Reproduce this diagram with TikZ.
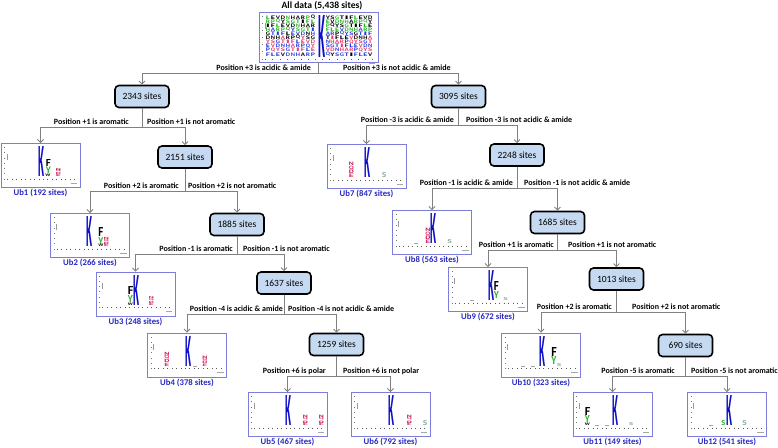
\documentclass[tikz,border=0pt]{standalone}
\usepackage{fontspec}
\setmainfont{Carlito}
\usepackage{graphicx}
\usetikzlibrary{arrows.meta}
\definecolor{boxfill}{RGB}{197,217,241}
\definecolor{conngray}{RGB}{128,128,128}
\definecolor{logoborder}{RGB}{125,125,220}
\definecolor{capblue}{RGB}{40,40,195}
\definecolor{kblue}{RGB}{15,15,200}
\definecolor{lgreen}{RGB}{40,175,40}
\definecolor{lpink}{RGB}{225,40,110}
\definecolor{lred}{RGB}{190,20,60}
\definecolor{lgray}{RGB}{140,175,150}
\definecolor{lg0}{RGB}{0,0,0}
\definecolor{lg1}{RGB}{40,180,40}
\definecolor{lg2}{RGB}{0,0,0}
\definecolor{lg3}{RGB}{40,180,40}
\definecolor{lg4}{RGB}{40,60,220}
\definecolor{lg5}{RGB}{0,0,0}
\definecolor{lg6}{RGB}{230,60,110}
\definecolor{lg7}{RGB}{40,60,220}
\definecolor{lg8}{RGB}{230,60,110}
\definecolor{lg9}{RGB}{40,60,220}
\tikzset{
 sitebox/.style={draw=black, line width=1.6pt, fill=boxfill, rounded corners=4pt,
   minimum width=54pt, minimum height=22pt, inner sep=0pt, font=\fontsize{9.5}{10}\selectfont},
 logobox/.style={draw=logoborder, line width=0.9pt, fill=white, minimum width=79pt,
   minimum height=44pt, inner sep=0pt},
 conn/.style={draw=conngray, line width=0.9pt},
 arr/.style={conn, -{Straight Barb[length=3pt,width=6pt]}},
 lbl/.style={font=\fontsize{8}{9}\selectfont\bfseries, inner sep=0pt},
 captxt/.style={font=\fontsize{8.7}{10}\selectfont\bfseries, text=capblue, inner sep=0pt, anchor=north},
}
\newcommand\LgAA[1]{\ifcase#1 L\or S\or A\or E\or G\or R\or V\or T\or P\or D\or I\or Q\or N\or F\or Y\or H\fi}
% x, ybase, width, height, colour, letter
\newcommand\LgLetter[6]{\node[inner sep=0pt, anchor=south west, text=#5] at ({#1},{#2}) {\resizebox{#3pt}{#4pt}{\bfseries #6}};}
\newcommand\KLetter[1]{\LgLetter{#1}{34}{6}{30}{kblue}{K}}
\newcommand\PStack[2]{%
  \pgfmathsetmacro\sh{#2/4}\pgfmathsetmacro\lh{#2/4*0.85}%
  \foreach \k/\L/\C in {0/E/lpink,1/D/lred,2/Q/lpink,3/N/lred}{\LgLetter{#1}{34-\k*\sh}{5}{\lh}{\C}{\L}}}
\newcommand\LgDash[1]{\draw[black!35, line width=0.5pt] ({#1},33.3) -- ++(4,0);}
\newcommand\LgMark[2]{\LgLetter{#1}{34}{4.5}{#2}{lgray}{S}}
% width, axis y
\newcommand\LogoAxes[2]{%
  \foreach \i in {0,...,15} \draw[black!65, line width=0.6pt] ({7+\i*(#1-12)/15},{#2}) -- ++(0,1.4);
  \foreach \j in {0,...,6} \fill[black!55] (3.6,{4+\j*(#2-4)/6}) rectangle ++(1,0.8);
  \draw[black!40, line width=0.5pt] (6.6,11) -- (6.6,17);
  \draw[black!35, line width=0.5pt] ({#1-9},{#2+4.5}) -- ({#1-2.5},{#2+4.5});
}
\begin{document}
\begin{tikzpicture}[x=1pt,y=-1pt]
\useasboundingbox (0,0) rectangle (778,447);

% ---------- nodes ----------
\node[font=\fontsize{9.6}{10}\selectfont\bfseries, inner sep=0pt] (title) at (322,5.5) {All data (5,438 sites)};
\node[logobox, minimum width=119pt, minimum height=50pt] (root) at (318.5,37) {};

\node[sitebox] (n2343) at (142,96.5) {2343 sites};
\node[sitebox] (n3095) at (458.5,96.5) {3095 sites};
\node[sitebox] (n2151) at (185,157) {2151 sites};
\node[sitebox] (n1885) at (237,224.5) {1885 sites};
\node[sitebox] (n1637) at (284,283) {1637 sites};
\node[sitebox] (n1259) at (336.5,344.5) {1259 sites};
\node[sitebox] (n2248) at (517,155) {2248 sites};
\node[sitebox] (n1685) at (557.5,222.5) {1685 sites};
\node[sitebox] (n1013) at (616.5,279) {1013 sites};
\node[sitebox] (n690) at (685.5,345.5) {690 sites};

\node[logobox] (ub1) at (40.5,165.5) {};
\node[logobox] (ub2) at (90,235.5) {};
\node[logobox] (ub3) at (135.5,294) {};
\node[logobox] (ub4) at (187,355) {};
\node[logobox] (ub5) at (287.5,414.5) {};
\node[logobox] (ub6) at (390.5,414.5) {};
\node[logobox] (ub7) at (366.5,166.5) {};
\node[logobox] (ub8) at (432,232.5) {};
\node[logobox] (ub9) at (488,289.5) {};
\node[logobox] (ub10) at (541,355) {};
\node[logobox] (ub11) at (612.5,414.5) {};
\node[logobox] (ub12) at (727,414.5) {};

\node[captxt] (ub1c) at ([yshift=-1pt]ub1.south) {Ub1 (192 sites)};
\node[captxt] (ub2c) at ([yshift=-1pt]ub2.south) {Ub2 (266 sites)};
\node[captxt] (ub3c) at ([yshift=-1pt]ub3.south) {Ub3 (248 sites)};
\node[captxt] (ub4c) at ([yshift=-1pt]ub4.south) {Ub4 (378 sites)};
\node[captxt] (ub5c) at ([yshift=-0.5pt]ub5.south) {Ub5 (467 sites)};
\node[captxt] (ub6c) at ([yshift=-0.5pt]ub6.south) {Ub6 (792 sites)};
\node[captxt] (ub7c) at ([yshift=-1pt]ub7.south) {Ub7 (847 sites)};
\node[captxt] (ub8c) at ([yshift=-1pt]ub8.south) {Ub8 (563 sites)};
\node[captxt] (ub9c) at ([yshift=-1pt]ub9.south) {Ub9 (672 sites)};
\node[captxt] (ub10c) at ([yshift=-1pt]ub10.south) {Ub10 (323 sites)};
\node[captxt] (ub11c) at ([yshift=-0.5pt]ub11.south) {Ub11 (149 sites)};
\node[captxt] (ub12c) at ([yshift=-0.5pt]ub12.south) {Ub12 (541 sites)};

% ---------- connectors ----------
\newcommand\branch[4]{%
  \coordinate (#1-h) at (0,#2);
  \draw[arr] (#1.south) -- (#1.south |- #1-h) -| (#3.north);
  \draw[arr] (#1.south) -- (#1.south |- #1-h) -| (#4.north);}
\branch{root}{73}{n2343}{n3095}
\branch{n2343}{127}{ub1}{n2151}
\branch{n2151}{191}{ub2}{n1885}
\branch{n1885}{254}{ub3}{n1637}
\branch{n1637}{314}{ub4}{n1259}
\branch{n1259}{376}{ub5}{ub6}
\branch{n3095}{125}{ub7}{n2248}
\branch{n2248}{188}{ub8}{n1685}
\branch{n1685}{250}{ub9}{n1013}
\branch{n1013}{312}{ub10}{n690}
\branch{n690}{376}{ub11}{ub12}

% ---------- labels ----------
\node[lbl, anchor=base east] (la0) at (311,70.5) {Position +3 is acidic \& amide};
\node[lbl, anchor=base west] (lb0) at (343,70.5) {Position +3 is not acidic \& amide};
\node[lbl, anchor=base east] (la1) at (129,124.5) {Position +1 is aromatic};
\node[lbl, anchor=base west] (lb1) at (147,124.5) {Position +1 is not aromatic};
\node[lbl, anchor=base east] (la2) at (179,188.5) {Position +2 is aromatic};
\node[lbl, anchor=base west] (lb2) at (188,188.5) {Position +2 is not aromatic};
\node[lbl, anchor=base east] (la3) at (233,251.5) {Position -1 is aromatic};
\node[lbl, anchor=base west] (lb3) at (243,251.5) {Position -1 is not aromatic};
\node[lbl, anchor=base east] (la4) at (283,311.5) {Position -4 is acidic \& amide};
\node[lbl, anchor=base west] (lb4) at (288,311.5) {Position -4 is not acidic \& amide};
\node[lbl, anchor=base east] (la5) at (326,373.5) {Position +6 is polar};
\node[lbl, anchor=base west] (lb5) at (343,373.5) {Position +6 is not polar};
\node[lbl, anchor=base east] (la6) at (454,122.5) {Position -3 is acidic \& amide};
\node[lbl, anchor=base west] (lb6) at (466,122.5) {Position -3 is not acidic \& amide};
\node[lbl, anchor=base east] (la7) at (513,185.5) {Position -1 is acidic \& amide};
\node[lbl, anchor=base west] (lb7) at (524,185.5) {Position -1 is not acidic \& amide};
\node[lbl, anchor=base east] (la8) at (554,247.5) {Position +1 is aromatic};
\node[lbl, anchor=base west] (lb8) at (568,247.5) {Position +1 is not aromatic};
\node[lbl, anchor=base east] (la9) at (612,309.5) {Position +2 is aromatic};
\node[lbl, anchor=base west] (lb9) at (632,309.5) {Position +2 is not aromatic};
\node[lbl, anchor=base east] (la10) at (675,373.5) {Position -5 is aromatic};
\node[lbl, anchor=base west] (lb10) at (691,373.5) {Position -5 is not aromatic};

% ---------- logo contents ----------
\begin{scope}[shift={(root.north west)}]
  \foreach \c in {0,...,19} {
    \pgfmathsetmacro\cx{\c<10 ? 7+\c*5 : 67+(\c-10)*4.7}
    \foreach \r in {0,...,9} {
      \pgfmathtruncatemacro\ci{mod(\r + (mod(\c*7+\r*3,4)==0), 10)}
      \pgfmathtruncatemacro\li{mod(\r*5+\c*3,16)}
      \LgLetter{\cx}{7.8+\r*4.1}{4.2}{3.5}{lg\ci}{\LgAA{\li}}
    }}
  \LgLetter{59.5}{46}{7}{42}{kblue}{K}
  \LogoAxes{119}{47}
\end{scope}

\begin{scope}[shift={(ub1.north west)}]
  \LogoAxes{79}{35.5}
  \KLetter{38}
  \LgLetter{45}{24}{5}{7}{black}{F}
  \LgLetter{45}{31}{5}{6.5}{lgreen}{Y}
  \LgLetter{44.5}{34}{5}{2.6}{black}{W}
  \PStack{55}{9}
\end{scope}
\begin{scope}[shift={(ub2.north west)}]
  \LogoAxes{79}{35.5}
  \KLetter{36}
  \LgLetter{48}{24}{5}{9}{black}{F}
  \LgLetter{48}{31.2}{5}{6.8}{lgreen}{Y}
  \LgLetter{48}{34}{5}{2.5}{black}{W}
  \PStack{53.5}{10}
\end{scope}
\begin{scope}[shift={(ub3.north west)}]
  \LogoAxes{79}{35.5}
  \LgLetter{32}{23}{5.5}{8}{black}{F}
  \LgLetter{32}{30.8}{5}{7}{lgreen}{Y}
  \LgLetter{32}{34}{5}{2.6}{black}{W}
  \KLetter{38}
  \PStack{53}{9}
\end{scope}
\begin{scope}[shift={(ub4.north west)}]
  \LogoAxes{79}{35.5}
  \PStack{17}{15}
  \KLetter{38}
  \LgDash{46}
  \PStack{55}{11}
\end{scope}
\begin{scope}[shift={(ub5.north west)}]
  \LogoAxes{79}{35.5}
  \KLetter{38}
  \PStack{55}{11}
  \PStack{71}{11}
\end{scope}
\begin{scope}[shift={(ub6.north west)}]
  \LogoAxes{79}{35.5}
  \KLetter{38}
  \PStack{56}{11}
  \LgMark{72}{5}
\end{scope}
\begin{scope}[shift={(ub7.north west)}]
  \LogoAxes{79}{35.5}
  \PStack{22}{16}
  \KLetter{38}
  \LgMark{55}{5}
\end{scope}
\begin{scope}[shift={(ub8.north west)}]
  \LogoAxes{79}{35.5}
  \LgDash{22}
  \PStack{33}{16}
  \KLetter{38}
  \LgMark{55}{4}
\end{scope}
\begin{scope}[shift={(ub9.north west)}]
  \LogoAxes{79}{35.5}
  \LgDash{22}
  \KLetter{40}
  \LgLetter{45.5}{24}{5}{9}{black}{F}
  \LgLetter{45.5}{31.5}{5}{7}{lgreen}{Y}
  \LgMark{55}{3}
\end{scope}
\begin{scope}[shift={(ub10.north west)}]
  \LogoAxes{79}{35.5}
  \LgDash{20}\LgDash{30}
  \KLetter{38}
  \LgLetter{50}{24}{5.5}{9}{black}{F}
  \LgLetter{50}{32}{5}{8}{lgreen}{Y}
  \LgMark{55.5}{3}
\end{scope}
\begin{scope}[shift={(ub11.north west)}]
  \LogoAxes{79}{35.5}
  \LgLetter{12}{24}{5.5}{8}{black}{F}
  \LgLetter{12}{31}{5}{7}{lgreen}{Y}
  \LgLetter{12}{34}{5}{2.6}{black}{W}
  \LgDash{22}\LgDash{32}
  \KLetter{40}
  \LgMark{56}{3}
\end{scope}
\begin{scope}[shift={(ub12.north west)}]
  \LogoAxes{79}{35.5}
  \LgDash{22}
  \LgLetter{34}{34}{4}{5}{lgreen}{S}
  \KLetter{39}
  \LgMark{55}{5}
\end{scope}
\end{tikzpicture}
\end{document}
